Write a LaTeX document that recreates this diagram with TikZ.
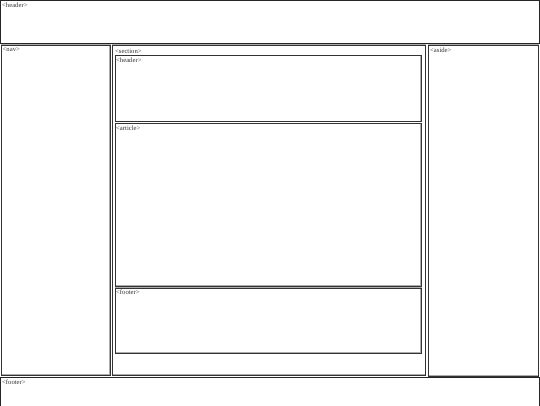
\documentclass[tikz,border=0pt]{standalone}
\usepackage{fontspec}
\setmainfont{Liberation Serif}
\usetikzlibrary{calc}
\tikzset{
  plain/.style={draw=black!85,line width=1bp},
  ridge/.style={draw=gray!65,line width=1.6bp,postaction={draw=black!80,line width=0.5bp}},
  tag/.style={anchor=north west,inner sep=0pt,text=black!80,font=\fontsize{6.7}{7}\selectfont}
}
\begin{document}
\begin{tikzpicture}[x=1bp,y=-1bp]
    \useasboundingbox (0,0) rectangle (540,405);
    % page header
    \coordinate(HA) at (0.5,0.5);
    \coordinate(HB) at (539.5,43.5);
    \draw[plain](HA) rectangle (HB);
    \node[tag] (thdr) at ($(HA)+(1.5,2.5)$) {<header>};

    % nav column
    \coordinate(NA) at (1.5,45);
    \coordinate(NB) at (110,375);
    \draw[ridge](NA) rectangle (NB);
    \node[tag] (tnav) at ($(NA)+(1,2)$) {<nav>};

    % section column
    \coordinate(SA) at (112.5,45);
    \coordinate(SB) at (425.5,375);
    \draw[ridge](SA) rectangle (SB);
    \node[tag] (tsec) at ($(SA)+(2.5,3.5)$) {<section>};

    \begin{scope}
      \coordinate(A) at (115.5,55.5);
      \coordinate(B) at (421,121.5);
      \draw[ridge](A) rectangle (B);
      \node[tag] (tshdr) at ($(A)+(0.5,1.8)$) {<header>};

      \coordinate(C) at (115.5,123.5);
      \coordinate(D) at (421,286);
      \draw[ridge](C) rectangle (D);
      \node[tag] (tart) at ($(C)+(0.5,1.8)$) {<article>};

      \coordinate(E) at (115.5,288);
      \coordinate(F) at (421,353);
      \draw[ridge](E) rectangle (F);
      \node[tag] (tsftr) at ($(E)+(0.5,1.8)$) {<footer>};
    \end{scope}

    % aside column
    \coordinate(AA) at (428.5,45);
    \coordinate(AB) at (538.5,376);
    \draw[ridge](AA) rectangle (AB);
    \node[tag] (tasd) at ($(AA)+(1.5,2.5)$) {<aside>};

    % page footer
    \coordinate(FA) at (0.5,377.5);
    \coordinate(FB) at (539.5,410);
    \draw[plain](FA) rectangle (FB);
    \node[tag] (tftr) at ($(FA)+(1.5,2.5)$) {<footer>};
  \end{tikzpicture}
\end{document}
